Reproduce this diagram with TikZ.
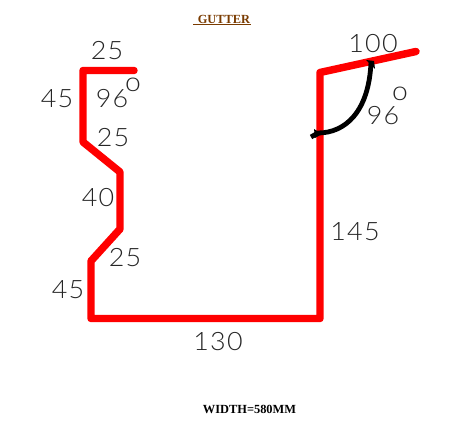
\documentclass[tikz,border=0pt]{standalone}
\usepackage{fontspec}
\setmainfont{Liberation Serif}
\newfontfamily\dimfont[UprightFont=* Light,LetterSpace=5,FakeStretch=1.06]{Lato}
\definecolor{gutterbrown}{HTML}{7A3B00}
\tikzset{
  profile/.style={draw=red,line width=5.6pt,line join=round,line cap=round},
  anglearc/.style={draw=black,line width=3.6pt,line cap=butt,line join=round},
  dimlabel/.style={inner sep=0pt,text=black!85,font=\dimfont\fontsize{19}{22}\selectfont},
  degreelabel/.style={inner sep=0pt,text=black!85,font=\dimfont\fontsize{20}{22}\selectfont},
  titlelabel/.style={inner sep=0pt,font=\fontsize{9.3}{11}\selectfont\bfseries}
}
\begin{document}
\begin{tikzpicture}[x=0.75pt,y=-0.75pt]
\useasboundingbox (0,0) rectangle (459,427);
\fill[white] (0,0) rectangle (459,427);
\draw[profile] (134,70.5) -- (83,70.5) -- (83,142) -- (120,172) -- (120,229) -- (91,261) -- (91,318.5) -- (320,318.5) -- (320,72.5) -- (416,51.5);
\draw[anglearc] (311,137) -- (318,133) .. controls (345,133) and (369,112) .. (371,62);
\fill[black] (366,60) -- (374,61) -- (375,69) -- cycle;
\fill[black] (314,129) -- (322,134) -- (315,138) -- cycle;
\node[titlelabel,text=gutterbrown] (title) at (224,19) {GUTTER};
\draw[gutterbrown,line width=0.75pt] (193,25) -- (251,25);
\node[titlelabel,text=black] (width) at (249.5,409) {WIDTH=580MM};
\node[dimlabel] (a) at (107,51) {25};
\node[dimlabel] (b) at (57,99) {45};
\node[dimlabel] (c) at (112,99) {96};
\node[degreelabel] (d) at (133,85) {o};
\node[dimlabel] (e) at (113,138) {25};
\node[dimlabel] (f) at (98,198) {40};
\node[dimlabel] (g) at (125,258) {25};
\node[dimlabel] (h) at (68,290) {45};
\node[dimlabel] (i) at (218,342) {130};
\node[dimlabel] (j) at (355,232) {145};
\node[dimlabel] (k) at (373,44) {100};
\node[dimlabel] (l) at (383,116) {96};
\node[degreelabel] (m) at (400,94) {o};
\end{tikzpicture}
\end{document}
